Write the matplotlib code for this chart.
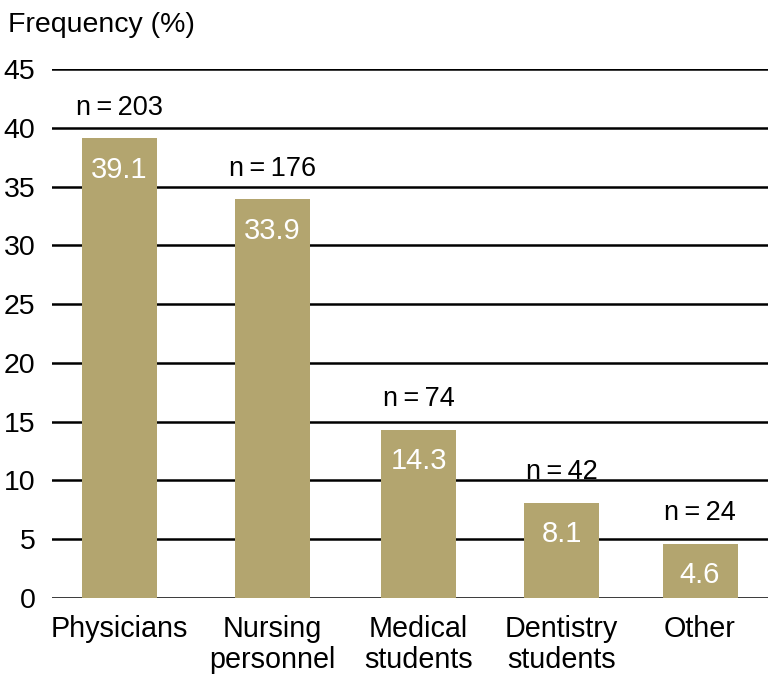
import matplotlib.pyplot as plt

categories = ["Physicians", "Nursing\npersonnel", "Medical\nstudents", "Dentistry\nstudents", "Other"]
freq = [39.1, 33.9, 14.3, 8.1, 4.6]
counts = [203, 176, 74, 42, 24]
yticks = [0, 5, 10, 15, 20, 25, 30, 35, 40, 45]

plt.rcParams['font.family'] = ['Liberation Sans', 'DejaVu Sans']

fig = plt.figure(figsize=(7.74, 6.84), dpi=100)
ax = fig.add_axes([52/774, 1 - 598/684, 716/774, 529/684])

# bar centres in axis pixel units (uneven spacing as in the original)
xpos = [67.5, 220.5, 366.5, 509.5, 648]
col = "#b3a56f"

ax.bar(xpos, freq, width=75, color=col, zorder=3)
for x, v, n in zip(xpos, freq, counts):
    ax.text(x, v - 2.65, f"{v}", ha="center", va="center", color="white", fontsize=21, zorder=4)
    ax.text(x, v + 2.6, f"n\u2009=\u2009{n}", ha="center", va="center", color="black", fontsize=19.5, zorder=4)

ax.set_xlim(0, 716)
ax.set_ylim(0, 45)
ax.set_yticks(yticks)
ax.set_xticks(xpos)
ax.set_xticklabels(categories, fontsize=20.7, linespacing=1.12)
ax.yaxis.grid(True, color="black", linewidth=1.8, zorder=0)
ax.set_axisbelow(True)
ax.tick_params(axis="y", length=0, pad=12, labelsize=20.5)
ax.tick_params(axis="x", length=0, pad=12.5)
for s in ax.spines.values():
    s.set_visible(False)

fig.text(8/774, 1 - 25/684, "Frequency (%)", fontsize=20.5, ha="left", va="center")

fig.savefig("out.png", dpi=100)
